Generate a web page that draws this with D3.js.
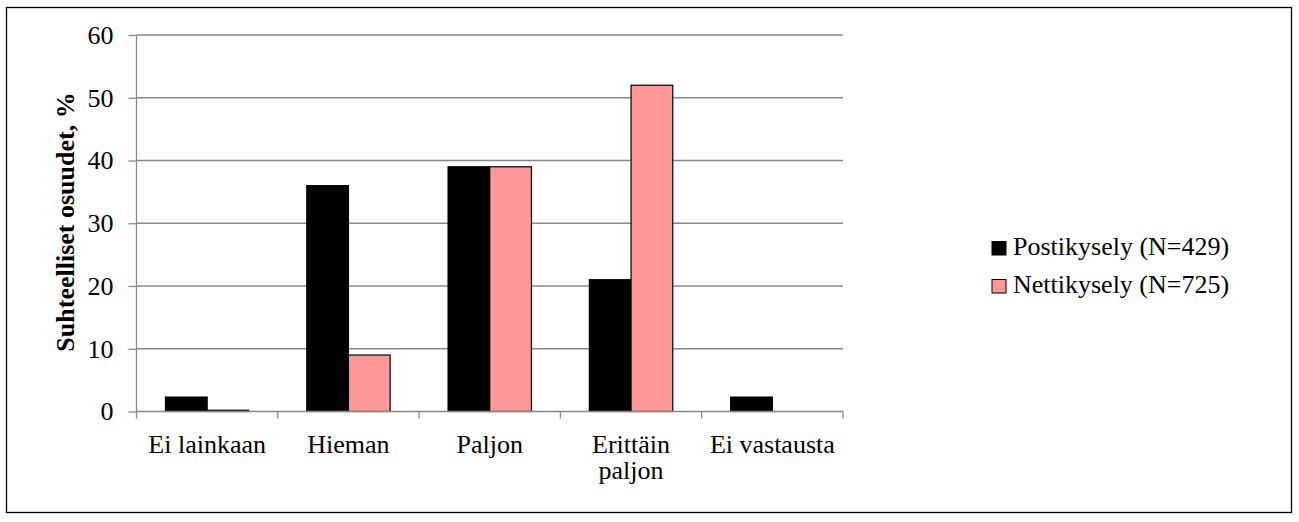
<!DOCTYPE html>
<html><head><meta charset="utf-8">
<script src="https://cdn.jsdelivr.net/npm/d3@7"></script>
<style>body{margin:0;background:#fff}svg{display:block}</style>
</head><body><svg id="c" width="1299" height="522"></svg>
<script>
const categories = [["Ei lainkaan"],["Hieman"],["Paljon"],["Erittäin","paljon"],["Ei vastausta"]];
const seriesNames = ["Postikysely (N=429)","Nettikysely (N=725)"];
const posti = [2.3, 36, 39, 21, 2.3];
const netti = [0.2, 9, 39, 52, 0];
const yTicks = [0,10,20,30,40,50,60];
const colors = ["#000000","#FF9999"];

(function(){
const FONT = "'Liberation Serif', 'Times New Roman', serif";
const FS = "26px";
const svg = d3.select("#c");
svg.append("rect").attr("x",6.5).attr("y",7.5).attr("width",1285).attr("height",505).attr("fill","#fff").attr("stroke","#000").attr("stroke-width",1.3);

const pL=136.5, pR=843, pT=35, pB=411.5;
const x = d3.scaleBand().domain(d3.range(categories.length)).range([pL,pR]).paddingInner(0).paddingOuter(0);
const y = d3.scaleLinear().domain([0,60]).range([pB,pT]);
const bw = x.bandwidth();
const barW = bw*0.295;
const off = (bw-2*barW)/2;

// gridlines
svg.append("g").selectAll("line").data(yTicks.filter(d=>d>0)).join("line")
  .attr("x1",pL).attr("x2",pR).attr("y1",d=>y(d)).attr("y2",d=>y(d))
  .attr("stroke","#888").attr("stroke-width",1.3);

// y axis
const ya = svg.append("g").attr("transform",`translate(${pL},0)`)
  .call(d3.axisLeft(y).tickValues(yTicks).tickSize(8).tickPadding(15));
ya.attr("font-family",null).attr("font-size",null);
ya.select(".domain").attr("stroke","#888").attr("stroke-width",1.3).attr("d",`M0,${pT}V${pB}`);
ya.selectAll(".tick line").attr("stroke","#888").attr("stroke-width",1.3);
ya.selectAll(".tick text").style("font-size",FS).style("font-family",FONT).attr("fill","#000");

// bars
const data = [posti, netti];
data.forEach((vals,si)=>{
  svg.append("g").selectAll("rect").data(vals).join("rect")
    .attr("x",(d,i)=>x(i)+off+si*barW)
    .attr("y",d=>y(d))
    .attr("width",barW)
    .attr("height",d=>y(0)-y(d))
    .attr("fill",colors[si])
    .attr("stroke","#000").attr("stroke-width",1.2)
    .attr("display",d=>d>0?null:"none");
});

// x axis
const xa = svg.append("g").attr("transform",`translate(0,${pB})`);
xa.append("line").attr("x1",pL).attr("x2",pR).attr("y1",0).attr("y2",0).attr("stroke","#888").attr("stroke-width",1.3);
const bounds = d3.range(categories.length+1).map(i=> i<categories.length? x(i) : pR);
xa.selectAll("line.tk").data(bounds).join("line").attr("class","tk")
  .attr("x1",d=>d).attr("x2",d=>d).attr("y1",0).attr("y2",7).attr("stroke","#888").attr("stroke-width",1.3);
const lab = xa.selectAll("text.cl").data(categories).join("text").attr("class","cl")
  .attr("text-anchor","middle").style("font-size",FS).style("font-family",FONT)
  .attr("x",(d,i)=>x(i)+bw/2);
lab.each(function(d){
  const t=d3.select(this);
  d.forEach((s,j)=>t.append("tspan").attr("x",t.attr("x")).attr("y",41+j*26).text(s));
});

// y label
svg.append("text").attr("transform","translate(74,222) rotate(-90)")
  .attr("text-anchor","middle").style("font-size",FS).style("font-weight","bold").style("font-family",FONT)
  .text("Suhteelliset osuudet, %");

// legend
const lg = svg.append("g").selectAll("g").data(seriesNames).join("g")
  .attr("transform",(d,i)=>`translate(992,${255+i*38})`);
lg.append("rect").attr("x",0).attr("y",-13.5).attr("width",14).attr("height",13.5)
  .attr("fill",(d,i)=>colors[i]).attr("stroke","#000").attr("stroke-width",1);
lg.append("text").attr("x",21).attr("y",0).style("font-size",FS).style("font-family",FONT).text(d=>d);
})();
</script></body></html>
